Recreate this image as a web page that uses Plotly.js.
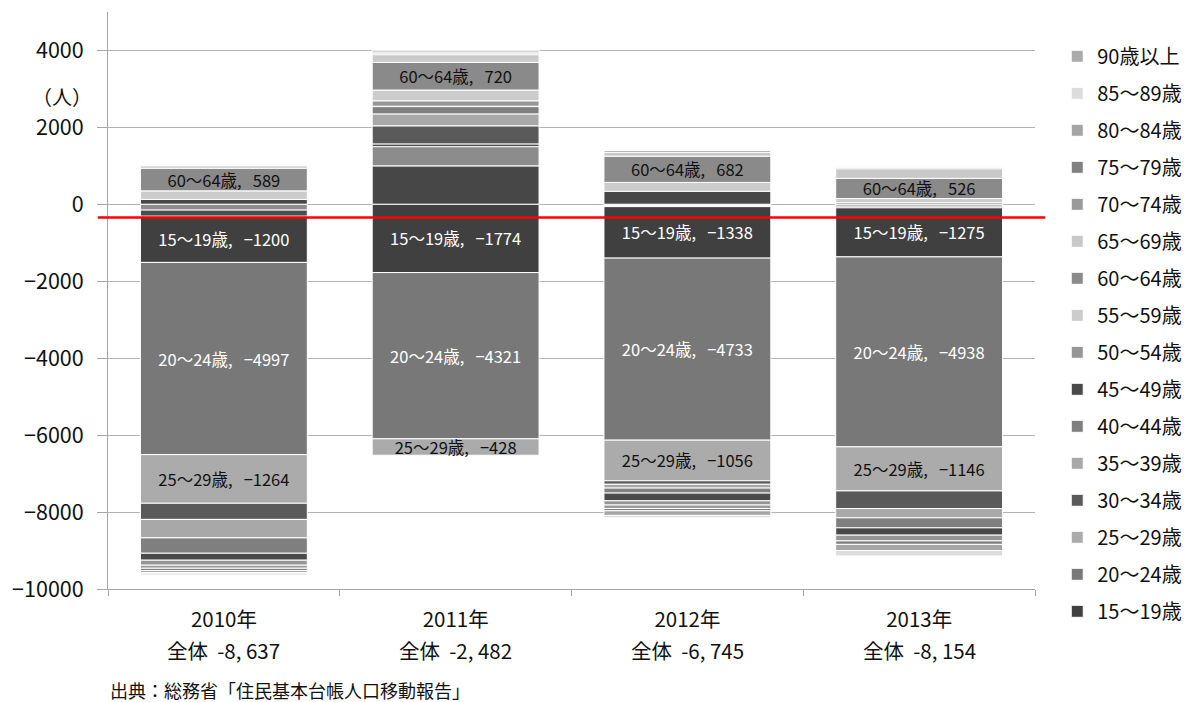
<!DOCTYPE html>
<html>
<head>
<meta charset="utf-8">
<script src="https://cdn.plot.ly/plotly-3.0.1.min.js"></script>
<style>html,body{margin:0;padding:0;background:#fff;}#chart{width:1187px;height:702px;}</style>
</head>
<body>
<div id="chart"></div>
<script>
// ---- data ----
const years = ["2010年", "2011年", "2012年", "2013年"];
const totals = [-8637, -2482, -6745, -8154];
const ageGroups = ["0～4歳", "5～9歳", "10～14歳", "15～19歳", "20～24歳", "25～29歳", "30～34歳", "35～39歳",
  "40～44歳", "45～49歳", "50～54歳", "55～59歳", "60～64歳", "65～69歳", "70～74歳", "75～79歳",
  "80～84歳", "85～89歳", "90歳以上"];
// net migration by age group (persons), one array per year, in ageGroups order
const v2010 = [130, -150, -160, -1200, -4997, -1264, -420, -480, -400, -180, -130, 220, 589, 60, -80, -60, -50, -40, -25];
const v2011 = [1000, 500, 71, -1774, -4321, -428, 470, 310, 190, 10, 140, 280, 720, 200, 40, 30, 50, 20, 10];
const v2012 = [340, -30, -30, -1338, -4733, -1056, -90, -100, -130, -200, -110, 230, 682, 100, -90, -60, -120, -60, 50];
const v2013 = [40, -50, -41, -1275, -4938, -1146, -460, -240, -260, -190, -150, 110, 526, 250, 30, -90, -160, -140, 30];
const labeledGroups = ["15～19歳", "20～24歳", "25～29歳", "60～64歳"];
const hiddenFromLegend = ["0～4歳", "5～9歳", "10～14歳"];
const redLineValue = -340;

// ---- styles ----
const colors = ["#474747", "#8c8c8c", "#4d4d4d", "#404040", "#787878", "#ababab", "#5a5a5a", "#a8a8a8",
  "#7f7f7f", "#4a4a4a", "#969696", "#cccccc", "#8a8a8a", "#c8c8c8", "#9a9a9a", "#808080",
  "#a5a5a5", "#dcdcdc", "#aaaaaa"];
const labelColors = {"15～19歳": "#ffffff", "20～24歳": "#ffffff", "25～29歳": "#111111", "60～64歳": "#111111"};
const FONT = "'Noto Sans CJK JP', 'Noto Sans', sans-serif";
const NB = "\u00a0";

const byYear = [v2010, v2011, v2012, v2013];
const fmtNum = n => (n < 0 ? "−" : "") + Math.abs(n);
const fmtTotal = n => (n < 0 ? "-" : "") + Math.abs(n).toLocaleString("en-US").replace(",", "," + NB);

const traces = ageGroups.map((name, i) => {
  const ys = byYear.map(arr => arr[i]);
  const labeled = labeledGroups.includes(name);
  return {
    type: "bar",
    name: name,
    x: years,
    y: ys,
    legendgroup: "g" + i,
    legendrank: 1000 - i,
    showlegend: !hiddenFromLegend.includes(name),
    marker: {color: colors[i], line: {color: "#ffffff", width: 1}},
    text: labeled ? ys.map(v => name + "," + NB + NB + NB + fmtNum(v)) : undefined,
    textposition: labeled ? "inside" : "none",
    insidetextanchor: "middle",
    textangle: 0,
    constraintext: "none",
    textfont: {family: FONT, size: 16.5, color: labeled ? labelColors[name] : "#000"},
    hoverinfo: "name+y"
  };
});

const annotations = years.map((yr, i) => ({
  x: yr, xref: "x", y: -0.106, yref: "paper",
  text: "全体" + NB + NB + fmtTotal(totals[i]), showarrow: false,
  font: {family: FONT, size: 20.5, color: "#111"}, xanchor: "center", yanchor: "middle"
}));
annotations.push({
  x: -0.05, xref: "paper", y: 0.853, yref: "paper", text: "（人）", showarrow: false,
  font: {family: FONT, size: 20, color: "#111"}, xanchor: "center", yanchor: "middle"
});
annotations.push({
  x: 0.0, xref: "paper", y: -0.175, yref: "paper", text: "出典：総務省「住民基本台帳人口移動報告」",
  showarrow: false, font: {family: FONT, size: 18, color: "#111"}, xanchor: "left", yanchor: "middle"
});

const layout = {
  width: 1187, height: 702,
  margin: {l: 108, r: 152, t: 12, b: 113, autoexpand: false},
  paper_bgcolor: "#ffffff", plot_bgcolor: "#ffffff",
  font: {family: FONT, color: "#111"},
  barmode: "relative",
  bargap: 0.28,
  xaxis: {
    type: "category", categoryarray: years, categoryorder: "array",
    showline: true, linecolor: "#a6a6a6", linewidth: 1,
    ticks: "outside", tickson: "boundaries", ticklen: 6, tickcolor: "#a6a6a6",
    tickfont: {family: FONT, size: 20.5, color: "#111"},
    ticklabelstandoff: 12,
    showgrid: false, fixedrange: true
  },
  yaxis: {
    range: [-10000, 5000], tick0: 0, dtick: 2000, tickformat: "d",
    showline: true, linecolor: "#a6a6a6", linewidth: 1,
    ticks: "outside", ticklen: 10, tickcolor: "#a6a6a6",
    showgrid: true, gridcolor: "#b4b4b4", gridwidth: 1, zeroline: false,
    tickfont: {family: FONT, size: 21.5, color: "#111"},
    ticklabelstandoff: 9,
    fixedrange: true
  },
  legend: {
    x: 1.024, xanchor: "left", y: 0.957, yanchor: "top",
    traceorder: "grouped", tracegroupgap: 8, itemwidth: 30,
    maxheight: 700,
    font: {family: FONT, size: 20, color: "#111"},
    itemclick: false, itemdoubleclick: false
  },
  shapes: [{
    type: "line", xref: "paper", x0: -0.011, x1: 1.011, yref: "y", y0: redLineValue, y1: redLineValue,
    line: {color: "#ff0000", width: 2.5}, layer: "above"
  }],
  annotations: annotations
};

Plotly.newPlot("chart", traces, layout, {displayModeBar: false, staticPlot: true});
</script>
</body>
</html>
